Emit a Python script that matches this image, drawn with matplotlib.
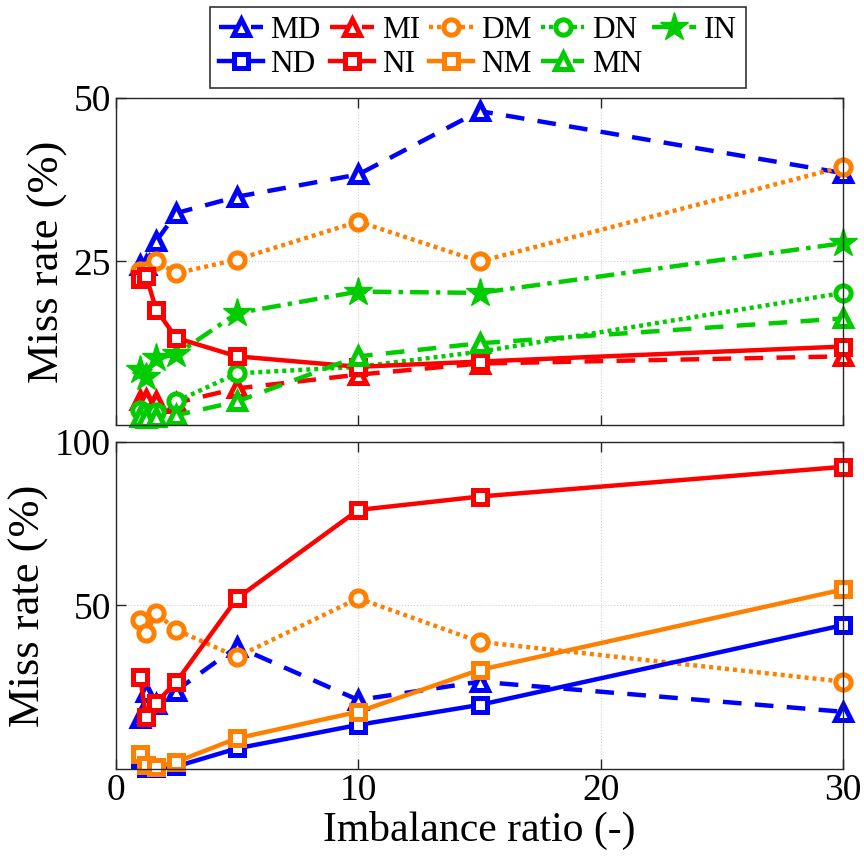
import matplotlib
matplotlib.use("Agg")
import matplotlib.pyplot as plt

plt.rcParams['font.family'] = ['Liberation Serif', 'DejaVu Serif']

# imbalance ratios
ratio = [1, 1.25, 1.67, 2.5, 5, 10, 15, 30]

# top panel (miss rate %)
md_top = [24.5, 24.5, 28.1, 32.4, 34.9, 38.3, 48.0, 38.5]
mi_top = [3.8, 4.0, 3.6, 3.4, 5.6, 7.7, 9.4, 10.5]
dm_top = [23.5, 23.5, 25.0, 23.2, 25.3, 31.1, 25.0, 39.5]
dn_top = [2.3, 1.8, 2.0, 3.6, 7.9, 8.9, 11.2, 20.2]
in_top = [8.4, 7.4, 10.2, 10.8, 17.1, 20.4, 20.2, 27.8]
ni_top = [22.3, 22.8, 17.6, 13.3, 10.5, 8.9, 9.7, 12.0]
mn_top = [1.2, 1.0, 1.3, 1.5, 3.6, 10.5, 12.5, 16.3]

# bottom panel (miss rate %)
md_bot = [15.6, 23.5, 20.0, 24.0, 37.4, 21.1, 26.7, 17.5]
dm_bot = [45.6, 41.5, 47.6, 42.5, 34.3, 52.2, 38.9, 26.7]
nd_bot = [3.0, 0.4, 0.3, 0.8, 6.3, 13.5, 19.6, 44.0]
ni_bot = [28.2, 16.0, 20.3, 26.7, 52.2, 79.2, 83.3, 92.4]
nm_bot = [4.5, 1.2, 0.6, 2.2, 9.4, 17.5, 30.3, 54.9]

blue = '#0000ff'
red = '#ff0000'
orange = '#ff8000'
green = '#00cc00'

lw = 3.2
mew = 3.6


def hollow(ax, y, color, marker, ls, ms=12, label=None):
    return ax.plot(ratio, y, color=color, ls=ls, lw=lw, marker=marker,
                   ms=ms, mew=mew, mfc='white', mec=color, label=label,
                   dash_capstyle='butt', clip_on=False)[0]


fig = plt.figure(figsize=(8.64, 8.63), dpi=100)
ax1 = fig.add_axes([0.134, 0.5075, 0.842, 0.379])
ax2 = fig.add_axes([0.134, 0.1089, 0.842, 0.379])

dash = (0, (4.2, 3.0))
dot = (0, (0.9, 0.9))
dashdot = (0, (4.2, 1.6, 1.0, 1.6))

h = {}
h['MD'] = hollow(ax1, md_top, blue, '^', dash, label='MD')
h['MI'] = hollow(ax1, mi_top, red, '^', dash, label='MI')
h['DM'] = hollow(ax1, dm_top, orange, 'o', dot, ms=11, label='DM')
h['DN'] = hollow(ax1, dn_top, green, 'o', dot, ms=11, label='DN')
h['IN'] = ax1.plot(ratio, in_top, color=green, ls=dashdot, lw=lw, marker='*',
                   ms=21, mfc=green, mec=green, label='IN', clip_on=False)[0]
h['NI'] = hollow(ax1, ni_top, red, 's', '-', ms=10, label='NI')
h['MN'] = hollow(ax1, mn_top, green, '^', dash, label='MN')

hollow(ax2, md_bot, blue, '^', dash)
hollow(ax2, dm_bot, orange, 'o', dot, ms=11)
h['ND'] = hollow(ax2, nd_bot, blue, 's', '-', ms=10, label='ND')
hollow(ax2, ni_bot, red, 's', '-', ms=10)
h['NM'] = hollow(ax2, nm_bot, orange, 's', '-', ms=10, label='NM')

for ax in (ax1, ax2):
    ax.set_xlim(0, 30)
    ax.set_xticks([0, 10, 20, 30])
    ax.grid(True, color='#d0d0d0', ls=':', lw=0.8)
    ax.tick_params(direction='in', top=True, right=True, length=7,
                   width=1, labelsize=27, colors='#262626', labelcolor='black')
    for s in ax.spines.values():
        s.set_color('#262626')
        s.set_linewidth(1.0)
    ax.set_ylabel('Miss rate (%)', fontsize=32, labelpad=4)

ax1.set_ylim(0, 50)
ax1.set_yticks([25, 50])
ax1.tick_params(labelbottom=False)
ax2.set_ylim(0, 100)
ax2.set_yticks([50, 100])
ax2.set_xlabel('Imbalance ratio (-)', fontsize=30, labelpad=2)

order = ['MD', 'ND', 'MI', 'NI', 'DM', 'NM', 'DN', 'MN', 'IN']
leg = fig.legend([h[k] for k in order], order, loc='upper center',
                 bbox_to_anchor=(0.553, 0.992), ncol=5, fontsize=22.5,
                 frameon=True, fancybox=False, edgecolor='black',
                 handlelength=1.4, handletextpad=0.25, columnspacing=0.3,
                 borderpad=0.3, labelspacing=0.15, borderaxespad=0)
leg.get_frame().set_linewidth(1.2)

fig.savefig('out.png', dpi=100)
